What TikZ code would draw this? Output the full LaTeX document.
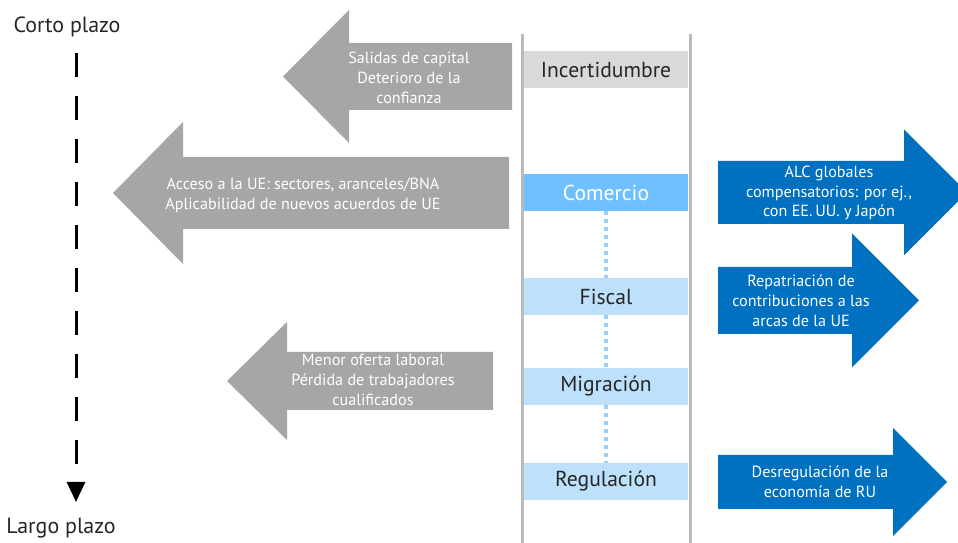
\documentclass[tikz,border=0pt]{standalone}
\usepackage{fontspec}
\setmainfont{PT Sans}
\usetikzlibrary{arrows.meta}
\definecolor{flechagris}{HTML}{A6A6A6}
\definecolor{flechaazul}{HTML}{0070C0}
\definecolor{cajagris}{HTML}{D9D9D9}
\definecolor{cajaazul}{HTML}{70C0FF}
\definecolor{cajaceleste}{HTML}{BDE1FB}
\definecolor{lineagris}{HTML}{BBBBBB}
\definecolor{puntos}{HTML}{9DD0F8}
%Flecha de bloque: color, punta, base de la cabeza, fin del cuerpo, centro y, medio cuerpo, media cabeza.
\newcommand{\flechabloque}[7]{\fill[#1] (#2,#5) -- (#3,#5-#7) -- (#3,#5-#6) -- (#4,#5-#6) -- (#4,#5+#6) -- (#3,#5+#6) -- (#3,#5+#7) -- cycle;}
\begin{document}
\begin{tikzpicture}[x=0.02cm, y=-0.02cm, line join=round,
	caja/.style={minimum width=3.28cm, minimum height=0.74cm, inner sep=0pt, font=\fontsize{12.3}{14}\selectfont, text=black!85},
	texto/.style={align=center, text=white, inner sep=0pt, font=\fontsize{9.2}{11.3}\selectfont},
	plazo/.style={font=\fontsize{12.5}{14}\selectfont, text=black!85}]
	\useasboundingbox (0,0) rectangle (958,543);
	%Lineas verticales.
	\draw[lineagris, line width=0.06cm] (522,34) -- (522,543);
	\draw[lineagris, line width=0.06cm] (690,34) -- (690,543);
	%Cajas.
	\node[caja, fill=cajagris] (inc) at (606,70) {Incertidumbre};
	\node[caja, fill=cajaazul, text=white] (com) at (606,192.5) {Comercio};
	\node[caja, fill=cajaceleste] (fis) at (606,296.5) {Fiscal};
	\node[caja, fill=cajaceleste] (mig) at (606,386.5) {Migración};
	\node[caja, fill=cajaceleste] (reg) at (606,481.5) {Regulación};
	%Puntos entre cajas.
	\draw[puntos, line width=0.065cm, dash pattern=on 0.08cm off 0.08cm] (com) -- (fis);
	\draw[puntos, line width=0.065cm, dash pattern=on 0.08cm off 0.08cm] (fis) -- (mig);
	\draw[puntos, line width=0.065cm, dash pattern=on 0.08cm off 0.08cm] (mig) -- (reg);
	%Flechas grises.
	\flechabloque{flechagris}{283}{349}{512}{76.5}{33.5}{66.5}
	\flechabloque{flechagris}{113}{183}{509}{193}{36}{71}
	\flechabloque{flechagris}{227}{287}{493}{381}{29}{59}
	\node[texto] (salidas) at (409,78) {Salidas de capital\\Deterioro de la\\confianza};
	\node[texto] (acceso) at (303,195) {Acceso a la UE: sectores, aranceles/BNA\\Aplicabilidad de nuevos acuerdos de UE};
	\node[texto] (menor) at (373,380) {Menor oferta laboral\\Pérdida de trabajadores\\cualificados};
	%Flechas azules.
	\flechabloque{flechaazul}{967}{904}{718}{192.5}{31.5}{63}
	\flechabloque{flechaazul}{919}{852}{718}{300.5}{33.5}{67}
	\flechabloque{flechaazul}{947}{893}{718}{482}{27}{54}
	\node[texto] (alc) at (829,193) {ALC globales\\compensatorios: por ej.,\\con EE.\,UU. y Japón};
	\node[texto] (repat) at (801,301) {Repatriación de\\contribuciones a las\\arcas de la UE};
	\node[texto] (desreg) at (820,482) {Desregulación de la\\economía de RU};
	%Eje temporal.
	\node[plazo] (corto) at (67,27) {Corto plazo};
	\node[plazo] (largo) at (61,528) {Largo plazo};
	\coordinate (inicio) at (76,53);
	\coordinate (fin) at (76,502);
	\draw[line width=0.06cm, dash pattern=on 0.48cm off 0.38cm, -{Triangle[length=0.4cm,width=0.36cm]}] (inicio) -- (fin);
\end{tikzpicture}
\end{document}
